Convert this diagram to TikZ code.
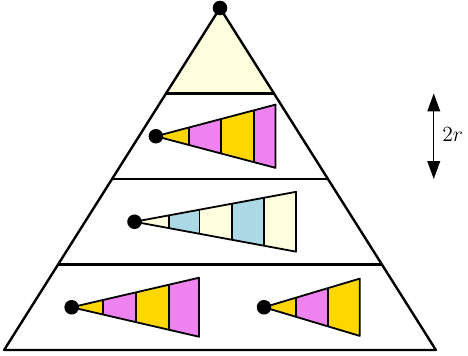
\documentclass[tikz,border=0pt,11pt]{standalone}
\usepackage{tikz}
\usetikzlibrary{arrows.meta, calc}

\definecolor{lyellow}{HTML}{FFFFE0}
\definecolor{goldy}{HTML}{FFD700}
\definecolor{pinkv}{HTML}{EE82EE}
\definecolor{lblue}{HTML}{ADD8E6}

\begin{document}
\begin{tikzpicture}[
  frame/.style={line width=1.6pt, black, line join=round},
  cone/.style={line width=1.2pt, black, line join=round},
  dot/.style={circle, fill=black, inner sep=0pt, minimum size=3.4mm},
  arr/.style={{Triangle[length=4.2mm, width=3mm]}-{Triangle[length=4.2mm, width=3mm]},
              line width=0.8pt},
  lbl/.style={right, xshift=0.6mm, yshift=0.5mm, font=\Large}
]
\useasboundingbox (-5.146,-0.14) rectangle (5.801,8.187);

% big triangle
\coordinate (A)  at (0,8);
\coordinate (BL) at (-5.05,0);
\coordinate (BR) at (5.05,0);
\coordinate (L6) at ($(A)!0.25!(BL)$);
\coordinate (R6) at ($(A)!0.25!(BR)$);
\coordinate (L4) at ($(A)!0.5!(BL)$);
\coordinate (R4) at ($(A)!0.5!(BR)$);
\coordinate (L2) at ($(A)!0.75!(BL)$);
\coordinate (R2) at ($(A)!0.75!(BR)$);

\fill[lyellow] (A) -- (L6) -- (R6) -- cycle;
\draw[frame] (A) -- (BL) -- (BR) -- cycle;
\draw[frame] (L6) -- (R6);
\draw[frame] (L4) -- (R4);
\draw[frame] (L2) -- (R2);
\node[dot] (top) at (A) {};

% level 1
\begin{scope}
  \clip (-1.5,5) -- (1.3,5.74) -- (1.3,4.26) -- cycle;
  \foreach \xa/\xb/\col in {-1.5/-0.73/goldy, -0.73/0.02/pinkv, 0.02/0.79/goldy, 0.79/1.3/pinkv}
    \fill[\col] (\xa,4) rectangle (\xb,6);
  \foreach \xb in {-0.73, 0.02, 0.79}
    \draw[cone] (\xb,4) -- (\xb,6);
\end{scope}
\draw[cone] (-1.5,5) -- (1.3,5.74) -- (1.3,4.26) -- cycle;
\node[dot] (c1) at (-1.5,5) {};

% level 2
\begin{scope}
  \clip (-2,3) -- (1.78,3.7) -- (1.78,2.3) -- cycle;
  \foreach \xa/\xb/\col in {-2/-1.2/lyellow, -1.2/-0.48/lblue, -0.48/0.29/lyellow,
                            0.29/1.03/lblue, 1.03/1.78/lyellow}
    \fill[\col] (\xa,2) rectangle (\xb,4);
  \foreach \xb in {-1.2, -0.48, 0.29, 1.03}
    \draw[cone] (\xb,2) -- (\xb,4);
\end{scope}
\draw[cone] (-2,3) -- (1.78,3.7) -- (1.78,2.3) -- cycle;
\node[dot] (c2) at (-2,3) {};

% level 3, left
\begin{scope}
  \clip (-3.47,1) -- (-0.49,1.69) -- (-0.49,0.31) -- cycle;
  \foreach \xa/\xb/\col in {-3.47/-2.73/goldy, -2.73/-1.97/pinkv, -1.97/-1.19/goldy,
                            -1.19/-0.49/pinkv}
    \fill[\col] (\xa,0) rectangle (\xb,2);
  \foreach \xb in {-2.73, -1.97, -1.19}
    \draw[cone] (\xb,0) -- (\xb,2);
\end{scope}
\draw[cone] (-3.47,1) -- (-0.49,1.69) -- (-0.49,0.31) -- cycle;
\node[dot] (c3) at (-3.47,1) {};

% level 3, right
\begin{scope}
  \clip (1.03,1) -- (3.27,1.67) -- (3.27,0.33) -- cycle;
  \foreach \xa/\xb/\col in {1.03/1.77/goldy, 1.77/2.53/pinkv, 2.53/3.27/goldy}
    \fill[\col] (\xa,0) rectangle (\xb,2);
  \foreach \xb in {1.77, 2.53}
    \draw[cone] (\xb,0) -- (\xb,2);
\end{scope}
\draw[cone] (1.03,1) -- (3.27,1.67) -- (3.27,0.33) -- cycle;
\node[dot] (c4) at (1.03,1) {};

% width of a level
\coordinate (rT) at (5,6);
\coordinate (rB) at (5,4);
\draw[arr] (rT) -- node[lbl] {$2r$} (rB);
\end{tikzpicture}
\end{document}
